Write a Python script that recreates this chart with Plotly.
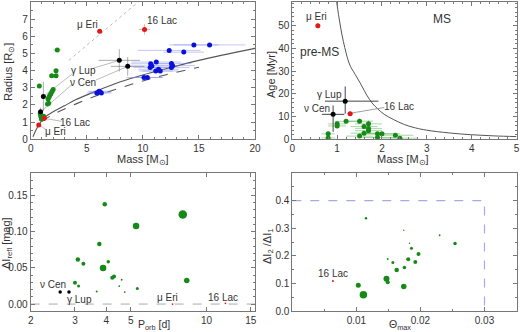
import plotly.graph_objects as go
import math

# ---------------- Panel 1: Radius vs Mass ----------------
p1_blue_mass = [5.9, 6.1, 6.3, 6.2, 10.1, 10.4, 10.7, 10.8, 10.65, 11.2, 11.4, 11.55, 11.15, 12.55, 12.65, 12.55, 12.35, 13.65, 14.55, 15.95]
p1_blue_radius = [2.7, 2.8, 2.7, 2.75, 3.6, 3.6, 4.4, 4.27, 4.18, 4.5, 4.08, 3.98, 3.98, 4.41, 4.29, 4.18, 5.18, 5.08, 5.5, 5.5]
p1_blue_merr = [0.9, 1.0, 0.9, 1.0, 1.6, 1.4, 1.8, 2.0, 1.5, 2.2, 1.8, 1.6, 1.5, 1.8, 2.0, 1.6, 2.8, 1.8, 2.2, 3.2]

p1_green_mass = [2.37, 2.26, 1.87, 2.26, 0.77, 2.0, 1.9, 1.8, 1.7, 1.62, 1.55, 1.5, 1.6, 0.85, 0.9, 1.0, 0.95, 1.15, 1.1]
p1_green_radius = [5.2, 4.0, 3.7, 3.7, 3.1, 2.9, 2.78, 2.65, 2.55, 2.45, 2.35, 2.05, 2.1, 1.5, 1.35, 1.25, 1.18, 1.35, 1.2]
p1_green_merr = [0.35, 0.1, 0.1, 0.1, 0.1, 0.15, 0.15, 0.15, 0.15, 0.15, 0.15, 0.2, 0.2, 0.1, 0.1, 0.1, 0.1, 0.1, 0.1]

p1_red_mass = [6.15, 10.15, 1.22, 0.72]
p1_red_radius = [6.3, 6.4, 1.22, 0.84]
p1_red_merr = [0.0, 0.5, 0.0, 0.0]
p1_red_rerr = [0.0, 0.3, 0.0, 0.0]

p1_black_mass = [1.13, 0.88, 7.9, 8.65]
p1_black_radius = [2.5, 1.6, 4.6, 4.25]
p1_black_merr = [0.05, 0.05, 1.85, 1.5]
p1_black_rerr = [0.85, 0.25, 0.65, 0.55]

p1_zams_mass = [0.2, 0.6, 1.2, 2.0, 3.0, 4.0, 6.0, 8.0, 10.0, 12.0, 15.0, 20.0]
p1_zams_radius = [0.15, 0.7, 1.25, 1.6, 1.95, 2.3, 2.85, 3.35, 3.75, 4.1, 4.6, 5.3]
p1_tams_mass = [1.0, 2.0, 4.0, 6.0, 8.0, 10.0, 12.0, 15.0]
p1_tams_radius = [1.05, 1.45, 2.05, 2.57, 3.0, 3.4, 3.75, 4.2]
p1_dot_mass = [3.4, 9.6]
p1_dot_radius = [4.6, 8.0]

p1_labels = ["μ Eri", "16 Lac", "γ Lup", "ν Cen", "16 Lac", "μ Eri"]
p1_label_mass = [5.05, 11.7, 4.7, 4.7, 3.95, 2.25]
p1_label_radius = [6.7, 6.9, 4.0, 3.3, 1.0, 0.45]
# leader lines (label end -> star)
p1_lead_from_m = [5.6, 3.7, 5.8, 3.7, 2.75, 1.4]
p1_lead_from_r = [4.15, 3.8, 3.45, 3.2, 1.05, 0.55]
p1_lead_to_m = [7.9, 1.13, 8.65, 0.88, 1.22, 0.72]
p1_lead_to_r = [4.6, 2.5, 4.25, 1.6, 1.22, 0.84]

# ---------------- Panel 2: Age vs Mass ----------------
p2_iso_mass = [0.99, 1.03, 1.08, 1.14, 1.2, 1.25, 1.3, 1.36, 1.45, 1.55, 1.66, 1.78, 1.9, 2.05, 2.25, 2.5, 2.75, 3.0, 3.5, 4.0, 4.5, 5.0]
p2_iso_age = [60.5, 55, 49, 43, 38, 34.5, 32, 30, 27, 23.5, 19.5, 16, 13.5, 11, 8.8, 6.5, 5.0, 4.0, 2.8, 2.0, 1.5, 1.2]

p2_green_mass = [0.8, 0.8, 1.0, 1.0, 1.2, 1.5, 1.5, 1.6, 1.6, 1.7, 1.7, 1.7, 1.9, 1.9, 2.0, 2.3, 2.4]
p2_green_age = [2.4, 0.6, 6.8, 5.9, 7.9, 8.0, 1.4, 5.6, 2.7, 6.8, 4.8, 3.8, 2.4, 0.8, 2.4, 1.8, 0.5]
p2_green_merr = [0.15, 0.15, 0.2, 0.2, 0.25, 0.3, 0.3, 0.3, 0.3, 0.3, 0.3, 0.3, 0.4, 0.4, 0.4, 0.4, 0.4]
p2_green_aerr = [1.0, 0.5, 1.0, 1.0, 1.0, 1.2, 0.8, 1.0, 1.0, 1.5, 1.0, 1.0, 0.8, 0.5, 0.8, 0.6, 0.4]

p2_red_mass = [0.57, 1.29]
p2_red_age = [50.0, 11.3]
p2_black_mass = [1.18, 0.91]
p2_black_age = [16.8, 11.0]
p2_black_merr_minus = [0.45, 0.25]
p2_black_merr_plus = [0.74, 0.25]
p2_black_aerr_minus = [5.5, 7.7]
p2_black_aerr_plus = [6.5, 3.9]

p2_labels = ["μ Eri", "γ Lup", "ν Cen", "16 Lac"]
p2_label_mass = [0.54, 0.84, 0.54, 2.37]
p2_label_age = [54.0, 19.6, 13.4, 14.5]
p2_region_labels = ["MS", "pre-MS"]
p2_region_mass = [3.34, 0.6]
p2_region_age = [53.2, 38.4]

# ---------------- Panel 3: reflection vs period ----------------
p3_green_porb = [3.0, 3.1, 3.08, 3.24, 3.66, 3.75, 3.88, 3.94, 4.07, 4.22, 4.29, 4.5, 4.6, 4.73, 5.25, 5.31, 8.05, 8.35]
p3_green_refl = [0.0294, 0.0248, 0.0617, 0.0557, 0.0175, 0.0828, 0.0497, 0.138, 0.0584, 0.0363, 0.0382, 0.0248, 0.0336, 0.0166, 0.1077, 0.0216, 0.1238, 0.0327]
p3_green_weight = [4, 3, 4.5, 4, 2, 4.5, 6.5, 4.5, 3.5, 4, 4, 1.8, 1.8, 1.8, 6.5, 3, 8.5, 5.5]
p3_black_porb = [2.62, 2.84]
p3_black_refl = [0.0166, 0.0166]
p3_red_porb = [7.33, 11.9]
p3_red_refl = [0.0, 0.001]
p3_labels = ["ν Cen", "γ Lup", "μ Eri", "16 Lac"]
p3_label_porb = [2.46, 3.14, 7.03, 11.6]
p3_label_refl = [0.027, 0.0064, 0.0097, 0.0097]

# ---------------- Panel 4: ratio vs theta ----------------
p4_green_theta = [0.0103, 0.0111, 0.0115, 0.0147, 0.0149, 0.0149, 0.0157, 0.0163, 0.0174, 0.0174, 0.0175, 0.0181, 0.0183, 0.0186, 0.0192, 0.0197, 0.0230, 0.0254]
p4_green_ratio = [0.094, 0.060, 0.336, 0.118, 0.105, 0.189, 0.176, 0.149, 0.293, 0.090, 0.158, 0.188, 0.246, 0.228, 0.178, 0.207, 0.275, 0.245]
p4_green_weight = [5, 7.5, 2.5, 6, 4, 1.8, 3, 4.5, 1.5, 5.5, 3.5, 4, 1.5, 3, 4, 4, 1.8, 3.5]
p4_red_theta = [0.00634]
p4_red_ratio = [0.1096]
p4_box_theta = [0.0, 0.03, 0.03]
p4_box_ratio = [0.4, 0.4, 0.0]
p4_label = "16 Lac"
p4_label_theta = 0.00634
p4_label_ratio = 0.137

# ---------------- styling ----------------
GREEN = "#168a16"
BLUE = "#0a10dc"
RED = "#e01818"
BLACK = "#000000"
FONT = "Liberation Sans, Arial, sans-serif"
TXT = "#333333"

fig = go.Figure()

def sc(x, y, ax, **kw):
    fig.add_trace(go.Scatter(x=x, y=y, xaxis="x" + ax, yaxis="y" + ax, showlegend=False, hoverinfo="skip", **kw))

# Panel 1
sc(p1_dot_mass, p1_dot_radius, "", mode="lines", line=dict(color="#bbbbbb", width=1, dash="dot"))
for i in range(len(p1_lead_from_m)):
    sc([p1_lead_from_m[i], p1_lead_to_m[i]], [p1_lead_from_r[i], p1_lead_to_r[i]], "", mode="lines", line=dict(color="#aaaaaa", width=0.8))
sc(p1_zams_mass, p1_zams_radius, "", mode="lines", line=dict(color="#555555", width=1.1, shape="spline"))
sc(p1_tams_mass, p1_tams_radius, "", mode="lines", line=dict(color="#555555", width=1.1, dash="dash", shape="spline"))
sc(p1_blue_mass, p1_blue_radius, "", mode="markers", marker=dict(color=BLUE, size=5, opacity=1),
   error_x=dict(type="data", array=p1_blue_merr, color="rgba(120,130,230,0.45)", thickness=1, width=0),
   error_y=dict(type="data", array=[0.1] * len(p1_blue_mass), color="rgba(120,130,230,0.45)", thickness=1, width=0))
sc(p1_green_mass, p1_green_radius, "", mode="markers", marker=dict(color=GREEN, size=5, opacity=1),
   error_x=dict(type="data", array=p1_green_merr, color="rgba(60,170,60,0.45)", thickness=1, width=0),
   error_y=dict(type="data", array=[0.08] * len(p1_green_mass), color="rgba(60,170,60,0.45)", thickness=1, width=0))
sc(p1_black_mass, p1_black_radius, "", mode="markers", marker=dict(color=BLACK, size=5, opacity=1),
   error_x=dict(type="data", array=p1_black_merr, color="rgba(90,90,90,0.5)", thickness=1, width=0),
   error_y=dict(type="data", array=p1_black_rerr, color="rgba(90,90,90,0.5)", thickness=1, width=0))
sc(p1_red_mass, p1_red_radius, "", mode="markers", marker=dict(color=RED, size=5, opacity=1),
   error_x=dict(type="data", array=p1_red_merr, color="rgba(230,100,100,0.5)", thickness=1, width=0),
   error_y=dict(type="data", array=p1_red_rerr, color="rgba(230,100,100,0.5)", thickness=1, width=0))

# Panel 2
sc(p2_iso_mass, p2_iso_age, "2", mode="lines", line=dict(color="#555555", width=1, shape="spline"))
sc([1.33, 2.05], [11.6, 14.0], "2", mode="lines", line=dict(color="#888888", width=0.8))
sc(p2_green_mass, p2_green_age, "2", mode="markers", marker=dict(color=GREEN, size=5, opacity=1),
   error_x=dict(type="data", array=p2_green_merr, color="rgba(60,170,60,0.45)", thickness=1, width=0),
   error_y=dict(type="data", array=p2_green_aerr, color="rgba(60,170,60,0.45)", thickness=1, width=0))
sc(p2_black_mass, p2_black_age, "2", mode="markers", marker=dict(color=BLACK, size=5, opacity=1),
   error_x=dict(type="data", array=p2_black_merr_plus, arrayminus=p2_black_merr_minus, color="#444444", thickness=1, width=0),
   error_y=dict(type="data", array=p2_black_aerr_plus, arrayminus=p2_black_aerr_minus, color="#444444", thickness=1, width=0))
sc(p2_red_mass, p2_red_age, "2", mode="markers", marker=dict(color=RED, size=5, opacity=1),
   error_x=dict(type="data", array=[0.05, 0.07], color="rgba(230,100,100,0.6)", thickness=1, width=0),
   error_y=dict(type="data", array=[1.2, 1.0], color="rgba(230,100,100,0.6)", thickness=1, width=0))

# Panel 3
sc([2.0, 15.6], [0.0, 0.0], "3", mode="lines", line=dict(color="#aaaaaa", width=1, dash="dash"))
sc(p3_green_porb, p3_green_refl, "3", mode="markers", marker=dict(color=GREEN, size=p3_green_weight, opacity=1, line=dict(width=0)))
sc(p3_black_porb, p3_black_refl, "3", mode="markers", marker=dict(color=BLACK, size=3.5, opacity=1, line=dict(width=0)))
sc(p3_red_porb, p3_red_refl, "3", mode="markers", marker=dict(color=RED, size=1.8, opacity=1, line=dict(width=0)))

# Panel 4
sc(p4_box_theta, p4_box_ratio, "4", mode="lines", line=dict(color="#a8a8f0", width=1.2, dash="dash"))
sc(p4_green_theta, p4_green_ratio, "4", mode="markers", marker=dict(color=GREEN, size=p4_green_weight, opacity=1, line=dict(width=0)))
sc(p4_red_theta, p4_red_ratio, "4", mode="markers", marker=dict(color=RED, size=2, opacity=1, line=dict(width=0)))

# ---------------- axes ----------------
def ax(domain, anchor, **kw):
    d = dict(domain=domain, anchor=anchor, showline=True, linecolor="#777777", linewidth=1,
             mirror="allticks", ticks="inside", ticklen=4, tickcolor="#777777", tickwidth=1,
             showgrid=False, zeroline=False, automargin=False, ticklabeloverflow="allow",
             tickfont=dict(family=FONT, size=10, color=TXT))
    d.update(kw)
    return d

X1 = [30.7 / 520, 255.0 / 520]
X2 = [292.3 / 520, 516.5 / 520]
YT = [1 - 139.3 / 332, 1 - 2.0 / 332]
YB = [1 - 311.3 / 332, 1 - 173.0 / 332]
minor = dict(ticks="inside", ticklen=2, tickcolor="#777777")

fig.update_layout(
    width=520, height=332,
    margin=dict(l=0, r=0, t=0, b=0, autoexpand=False),
    paper_bgcolor="white", plot_bgcolor="white",
    xaxis=ax(X1, "y", range=[0, 20], tickvals=[0, 5, 10, 15, 20], minor=dict(dtick=1, **minor)),
    yaxis=ax(YT, "x", range=[0, 8], tickvals=list(range(0, 8)), minor=dict(dtick=0.5, **minor)),
    xaxis2=ax(X2, "y2", range=[0, 5], tickvals=[0, 1, 2, 3, 4, 5], minor=dict(dtick=0.2, **minor)),
    yaxis2=ax(YT, "x2", range=[0, 60.5], tickvals=[0, 10, 20, 30, 40, 50], minor=dict(dtick=2, **minor)),
    xaxis3=ax(X1, "y3", type="log", range=[math.log10(2), math.log10(15.6)],
              tickvals=[2, 3, 4, 5, 10, 15], ticktext=["2", "3", "4", "5", "10", "15"]),
    yaxis3=ax(YB, "x3", range=[-0.01, 0.181], tickvals=[0, 0.05, 0.10, 0.15],
              ticktext=["0.00", "0.05", "0.10", "0.15"], minor=dict(dtick=0.01, **minor)),
    xaxis4=ax(X2, "y4", range=[0, 0.035], tickvals=[0.01, 0.02, 0.03], minor=dict(dtick=0.005, **minor)),
    yaxis4=ax(YB, "x4", range=[0, 0.5], tickvals=[0, 0.1, 0.2, 0.3, 0.4],
              ticktext=["0.0", "0.1", "0.2", "0.3", "0.4"], minor=dict(dtick=0.05, **minor)),
)

ann = []
lab_font = dict(family=FONT, size=10, color=TXT)
for t, x, y in zip(p1_labels, p1_label_mass, p1_label_radius):
    ann.append(dict(text=t, x=x, y=y, xref="x", yref="y", showarrow=False, font=lab_font))
for t, x, y in zip(p2_labels, p2_label_mass, p2_label_age):
    ann.append(dict(text=t, x=x, y=y, xref="x2", yref="y2", showarrow=False, font=lab_font))
for t, x, y in zip(p2_region_labels, p2_region_mass, p2_region_age):
    ann.append(dict(text=t, x=x, y=y, xref="x2", yref="y2", showarrow=False,
                    font=dict(family=FONT, size=12, color=TXT)))
for t, x, y in zip(p3_labels, p3_label_porb, p3_label_refl):
    ann.append(dict(text=t, x=math.log10(x), y=y, xref="x3", yref="y3", showarrow=False, font=lab_font))
ann.append(dict(text=p4_label, x=p4_label_theta, y=p4_label_ratio, xref="x4", yref="y4", showarrow=False, font=lab_font))

def title(text, x, y, angle=0, size=11):
    ann.append(dict(text=text, x=x / 520, y=1 - y / 332, xref="paper", yref="paper", showarrow=False,
                    textangle=angle, font=dict(family=FONT, size=size, color=TXT),
                    xanchor="center", yanchor="middle"))

title("Mass [M<sub>⊙</sub>]", 143, 160)
title("Radius [R<sub>⊙</sub>]", 9, 72, -90)
title("Mass [M<sub>⊙</sub>]", 403, 160)
title("Age [Myr]", 271, 75, -90)
title("P<sub>orb</sub> [d]", 154, 325, size=10.5)
title("ΔI<sub>refl</sub> [mag]", 7, 243, -90)
title("Θ<sub>max</sub>", 400, 325, size=10.5)
title("ΔI<sub>2</sub> /ΔI<sub>1</sub>", 268, 246, -90)

fig.update_layout(annotations=ann)
fig.write_html("out.html", config={"displayModeBar": False},
               post_script="document.body.style.margin='0px';document.body.style.overflow='hidden';")
